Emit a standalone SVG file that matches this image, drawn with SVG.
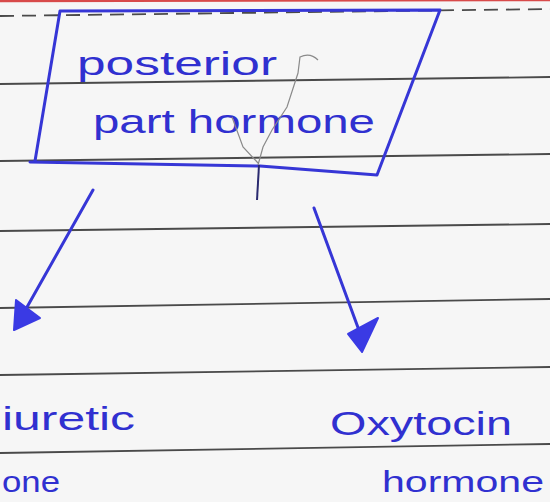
<svg xmlns="http://www.w3.org/2000/svg" width="550" height="502" viewBox="0 0 550 502">
<style>
.rule{stroke:#4a4a4a;stroke-width:1.8;fill:none}
.ink{stroke:#3636d6;stroke-width:3;fill:none;stroke-linecap:round;stroke-linejoin:round}
.head{fill:#3a3ae4;stroke:#3a3ae4;stroke-width:2;stroke-linejoin:round}
.txt{font-family:"Liberation Sans",Arial,sans-serif;font-size:34px;fill:#3030d0}
.sm{font-size:30px}
.pencil{stroke:#8a8a8a;stroke-width:1.2;fill:none}
</style>
<rect width="550" height="502" fill="#f6f6f6"/>
<g id="paper">
<line x1="0" y1="1" x2="550" y2="0" stroke="#d84a4a" stroke-width="2.5"/>
<line x1="0" y1="16" x2="550" y2="9" class="rule" stroke-dasharray="14 8"/>
<line x1="0" y1="84" x2="550" y2="77" class="rule"/>
<line x1="0" y1="161" x2="550" y2="154" class="rule"/>
<line x1="0" y1="231" x2="550" y2="224" class="rule"/>
<line x1="0" y1="308" x2="550" y2="299" class="rule"/>
<line x1="0" y1="375" x2="550" y2="367" class="rule"/>
<line x1="0" y1="453" x2="550" y2="444" class="rule"/>
</g>
<g id="node-posterior">
<path class="ink" d="M60,11 L440,10 L377,175 L260,166 L30,162 M60,11 L35,161"/>
<text class="txt" x="77" y="75" textLength="200" lengthAdjust="spacingAndGlyphs">posterior</text>
<text class="txt" x="93" y="133" textLength="282" lengthAdjust="spacingAndGlyphs">part hormone</text>
<path class="pencil" d="M318,60 Q310,52 300,57 L298,73 L287,107 L272,130 L263,147 L258,165 M232,117 L243,147 L258,163"/>
<path d="M259,165 L257,200" stroke="#2a2a70" stroke-width="2" fill="none"/>
</g>
<g id="connectors">
<line class="ink" x1="93" y1="190" x2="22" y2="316"/>
<polygon class="head" points="14,330 16,300 40,318"/>
<line class="ink" x1="314" y1="208" x2="360" y2="333"/>
<polygon class="head" points="362,352 348,334 378,318"/>
</g>
<g id="node-antidiuretic">
<text class="txt" x="2" y="430" textLength="133" lengthAdjust="spacingAndGlyphs">iuretic</text>
<text class="txt sm" x="2" y="492" textLength="58" lengthAdjust="spacingAndGlyphs">one</text>
</g>
<g id="node-oxytocin">
<text class="txt" x="330" y="435" textLength="182" lengthAdjust="spacingAndGlyphs">Oxytocin</text>
<text class="txt sm" x="382" y="492" textLength="162" lengthAdjust="spacingAndGlyphs">hormone</text>
</g>
</svg>
